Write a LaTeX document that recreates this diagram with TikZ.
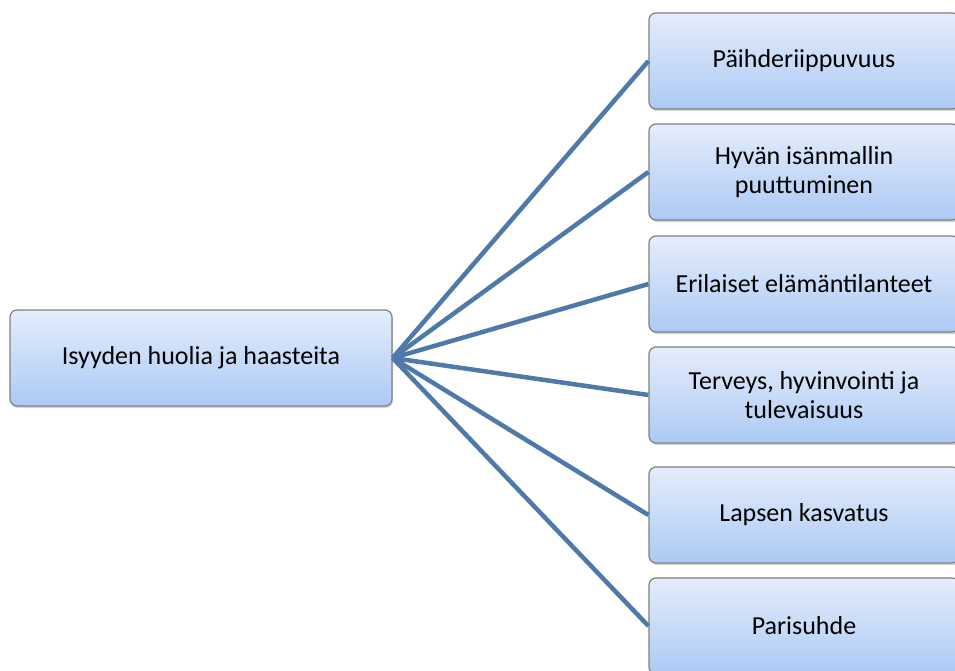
\documentclass[tikz,border=0pt]{standalone}
\usepackage{fontspec}
\setmainfont{Carlito}
\usetikzlibrary{shadows}
\definecolor{boxtop}{HTML}{E4EDFB}
\definecolor{boxbottom}{HTML}{ACCAF5}
\definecolor{boxedge}{HTML}{808080}
\definecolor{linkblue}{HTML}{4E79A8}
\tikzset{
  topicbox/.style={draw=boxedge, line width=1.2pt, rounded corners=7pt, align=center,
    top color=boxtop, bottom color=boxbottom, minimum height=96pt,
    font=\fontsize{26}{29}\selectfont, inner sep=2pt,
    drop shadow={opacity=0.35, shadow xshift=1pt, shadow yshift=-2pt}},
  rootbox/.style={topicbox, minimum width=382pt},
  leafbox/.style={topicbox, minimum width=310pt},
  link/.style={line width=4.5pt, draw=linkblue}
}
\begin{document}
\begin{tikzpicture}[x=1pt,y=-1pt]
  \useasboundingbox (0,0) rectangle (955,671);
  \node[rootbox] (isyys) at (201,358) {Isyyden huolia ja haasteita};
  \node[leafbox] (paihde) at (804,61) {Päihderiippuvuus};
  \node[leafbox] (isamalli) at (804,172) {Hyvän isänmallin\\puuttuminen};
  \node[leafbox] (tilanteet) at (804,284) {Erilaiset elämäntilanteet};
  \node[leafbox] (terveys) at (804,395) {Terveys, hyvinvointi ja\\tulevaisuus};
  \node[leafbox] (kasvatus) at (804,515) {Lapsen kasvatus};
  \node[leafbox] (parisuhde) at (804,626) {Parisuhde};
  \foreach \n in {paihde,isamalli,tilanteet,terveys,kasvatus,parisuhde}
    \draw[link] (isyys.east) -- (\n.west);
\end{tikzpicture}
\end{document}
